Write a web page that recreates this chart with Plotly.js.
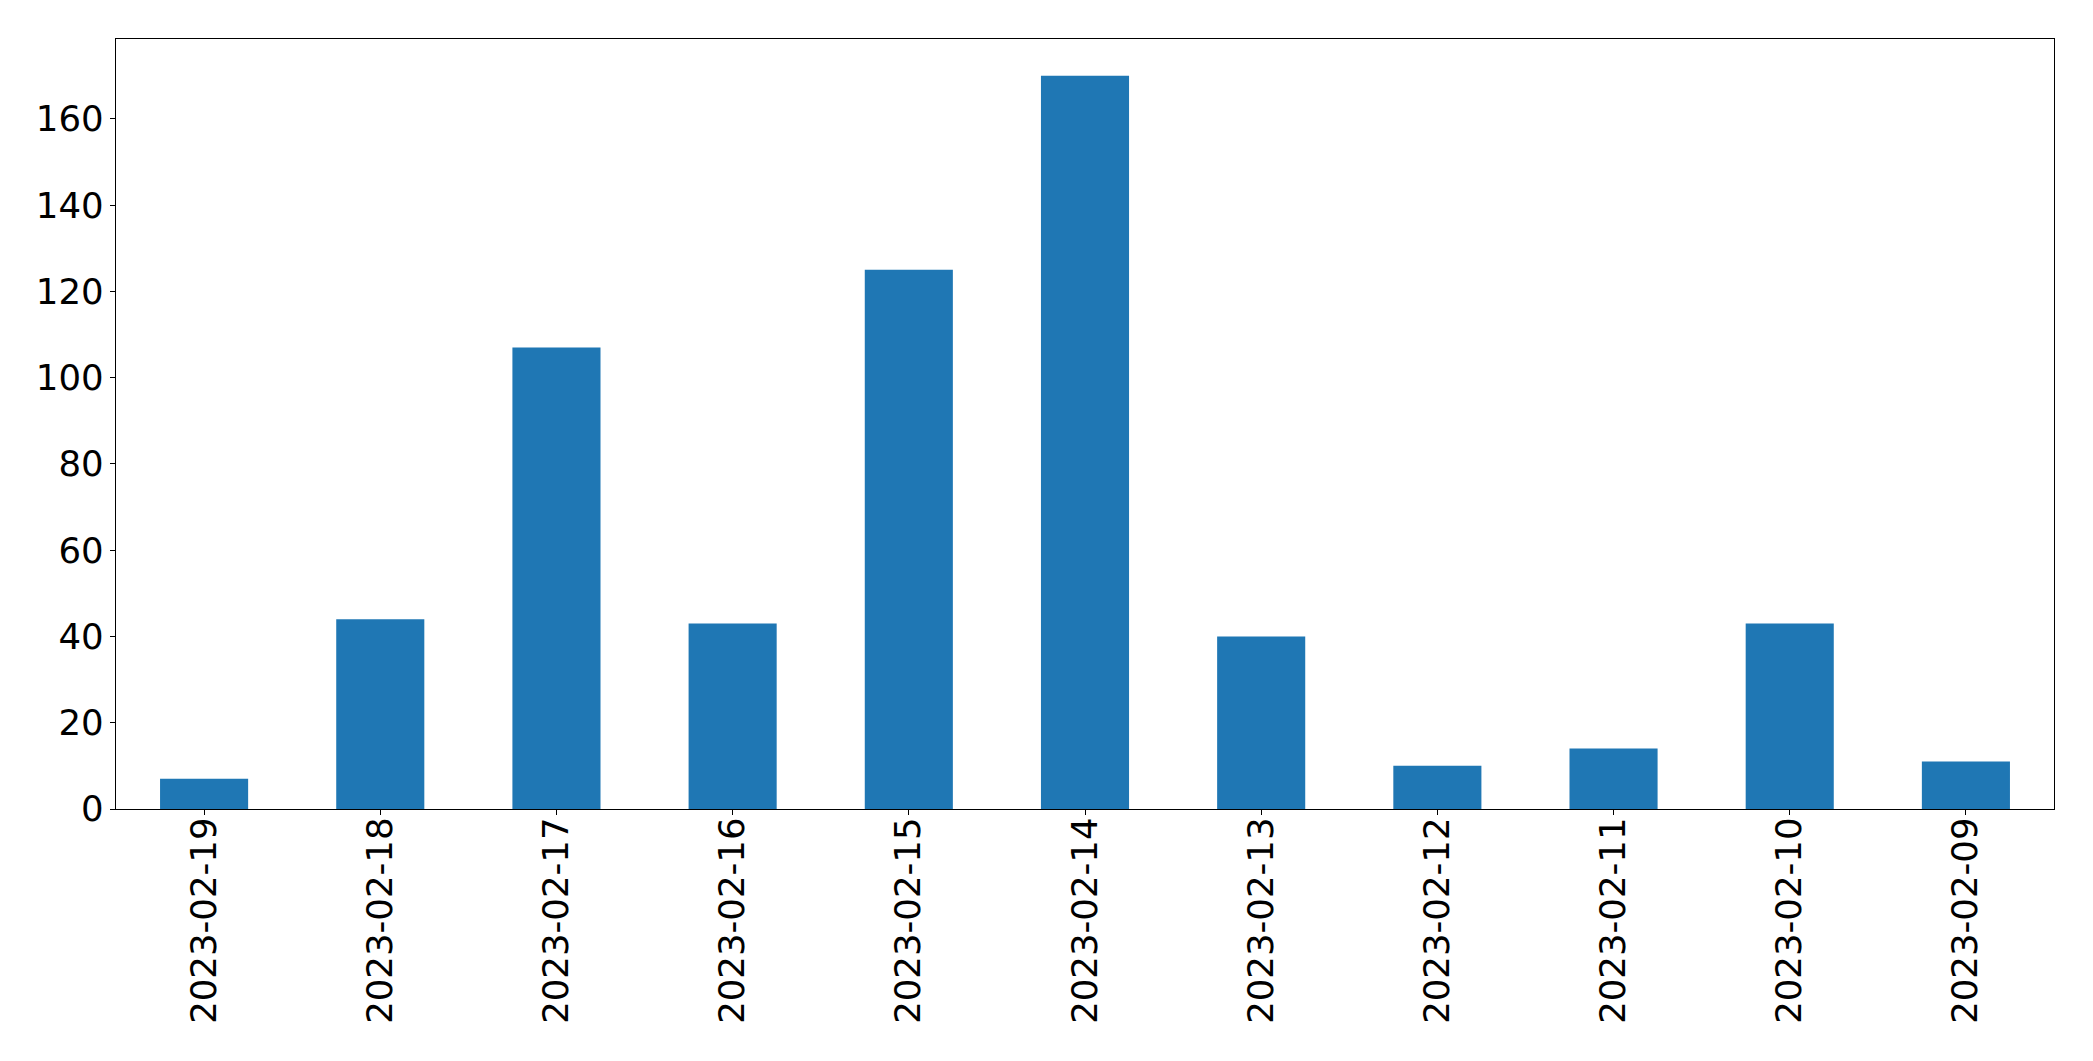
<!DOCTYPE html>
<html>
<head>
<meta charset="utf-8">
<script src="https://cdn.plot.ly/plotly-3.0.1.min.js"></script>
<style>html,body{margin:0;padding:0;background:#fff;}#chart{width:2093px;height:1061px;}</style>
</head>
<body>
<div id="chart"></div>
<script>
const dates = ["2023-02-19","2023-02-18","2023-02-17","2023-02-16","2023-02-15","2023-02-14","2023-02-13","2023-02-12","2023-02-11","2023-02-10","2023-02-09"];
const counts = [7, 44, 107, 43, 125, 170, 40, 10, 14, 43, 11];
const yTicks = [0, 20, 40, 60, 80, 100, 120, 140, 160];

const trace = {
  type: 'bar',
  x: dates,
  y: counts,
  marker: {color: '#1f77b4', line: {width: 0}},
  hoverinfo: 'x+y'
};

const axisFont = {family: 'DejaVu Sans, sans-serif', size: 35.5, color: '#000'};

const layout = {
  width: 2093,
  height: 1061,
  margin: {l: 116, r: 39, t: 39, b: 252, pad: 0},
  paper_bgcolor: '#fff',
  plot_bgcolor: '#fff',
  bargap: 0.5,
  showlegend: false,
  font: axisFont,
  xaxis: {
    type: 'category',
    range: [-0.5, dates.length - 0.5],
    tickangle: -90,
    ticks: 'outside',
    ticklen: 5,
    tickwidth: 1,
    tickcolor: '#000',
    showline: true,
    linecolor: '#000',
    linewidth: 1.3,
    mirror: true,
    showgrid: false,
    zeroline: false,
    tickfont: axisFont,
    ticklabelstandoff: -12
  },
  yaxis: {
    range: [0, 178.5],
    tickmode: 'array',
    tickvals: yTicks,
    ticktext: yTicks.map(String),
    ticks: 'outside',
    ticklen: 5,
    tickwidth: 1,
    tickcolor: '#000',
    showline: true,
    linecolor: '#000',
    linewidth: 1.3,
    mirror: true,
    showgrid: false,
    zeroline: false,
    tickfont: axisFont,
    ticklabelstandoff: -1
  }
};

Plotly.newPlot('chart', [trace], layout, {displayModeBar: false, staticPlot: true});
</script>
</body>
</html>
